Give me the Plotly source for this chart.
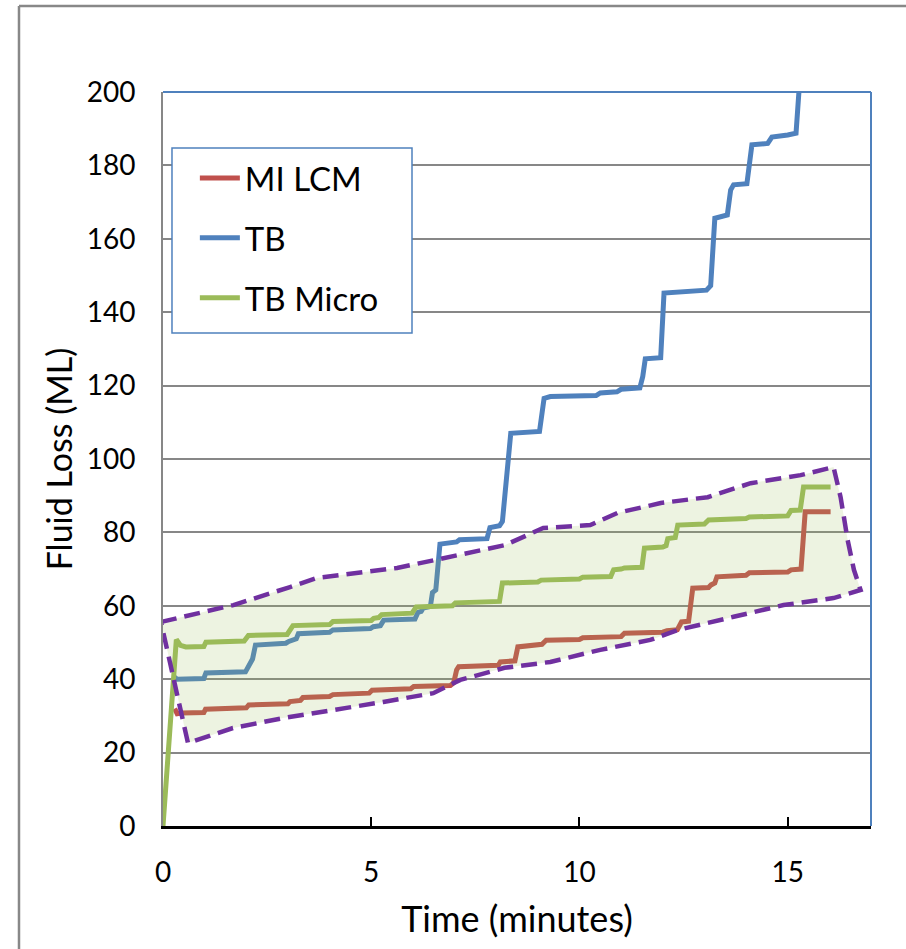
import plotly.graph_objects as go

# ---------------- data ----------------
mi_lcm_x = [0.28, 0.34, 0.45, 0.98, 1.02, 2.0, 2.06, 3.0, 3.05, 3.3, 3.36, 4.0, 4.08, 4.95, 5.02,
            5.95, 6.02, 6.9, 6.98, 7.05, 7.1, 8.05, 8.1, 8.45, 8.52, 9.1, 9.2, 10.0, 10.08, 11.0,
            11.08, 12.0, 12.1, 12.35, 12.45, 12.62, 12.72, 13.1, 13.16, 13.25, 13.3, 14.0, 14.08,
            15.0, 15.08, 15.32, 15.42, 16.03]
mi_lcm_y = [32.0, 30.6, 30.8, 30.9, 31.8, 32.2, 33.0, 33.3, 33.9, 34.2, 35.0, 35.3, 35.8, 36.2, 37.0,
            37.4, 38.0, 38.3, 39.0, 42.5, 43.4, 43.8, 44.7, 45.0, 48.8, 49.5, 50.6, 50.8, 51.3, 51.6,
            52.5, 52.8, 53.2, 53.5, 55.6, 55.8, 64.8, 65.0, 65.7, 66.2, 67.9, 68.3, 69.0,
            69.2, 69.8, 70.0, 85.6, 85.6]

tb_x = [0.28, 0.34, 0.98, 1.03, 1.98, 2.05, 2.15, 2.22, 2.95, 3.02, 3.2, 3.25, 4.0, 4.08, 4.98,
        5.05, 5.22, 5.3, 6.05, 6.12, 6.2, 6.25, 6.42, 6.47, 6.55, 6.65, 7.05, 7.12, 7.78, 7.85,
        8.08, 8.15, 8.22, 8.28, 8.35, 9.04, 9.15, 9.3, 10.4, 10.5, 10.9, 11.0, 11.45, 11.52, 11.58,
        11.95, 12.03, 13.05, 13.15, 13.25, 13.55, 13.63, 13.7, 14.02, 14.14, 14.52, 14.62, 15.0,
        15.2, 15.3]
tb_y = [40.5, 40.0, 40.2, 41.7, 42.0, 43.5, 45.5, 49.3, 49.8, 50.3, 51.0, 52.4, 52.8, 53.4, 53.8,
        54.3, 54.6, 56.1, 56.4, 58.2, 58.5, 59.4, 59.8, 63.6, 64.3, 76.8, 77.4, 78.0, 78.3, 81.3,
        81.8, 83.0, 90.7, 100.0, 107.0, 107.5, 116.5, 117.0, 117.3, 118.0, 118.3, 119.0, 119.4, 122.5, 127.3,
        127.6, 145.2, 146.0, 147.2, 165.6, 166.5, 173.3, 174.7, 175.0, 185.6, 186.0, 187.7, 188.3,
        188.8, 205.0]

tb_micro_x = [0, 0.32, 0.42, 0.55, 0.98, 1.03, 1.95, 2.05, 2.98, 3.05, 3.12, 4.0, 4.08, 5.0, 5.06,
              5.18, 5.25, 5.98, 6.08, 6.95, 7.02, 8.08, 8.15, 9.0, 9.08, 10.0, 10.08, 10.75, 10.82,
              11.0, 11.08, 11.5, 11.56, 12.0, 12.08, 12.12, 12.3, 12.36, 13.0, 13.1, 14.0, 14.08,
              15.0, 15.08, 15.3, 15.38, 16.03]
tb_micro_y = [0, 50.8, 49.2, 48.8, 48.9, 50.1, 50.4, 51.9, 52.2, 53.3, 54.6, 54.9, 55.7, 56.0, 56.6,
              56.8, 57.6, 58.0, 59.7, 60.0, 60.8, 61.2, 66.2, 66.5, 67.0, 67.3, 67.8, 68.0, 69.8,
              70.0, 70.3, 70.5, 75.7, 76.0, 76.4, 78.3, 78.6, 82.0, 82.3, 83.4, 83.8, 84.2,
              84.5, 86.0, 86.1, 92.4, 92.4]

# hand-drawn envelope (dashed outline with light fill)
envelope_x = [-0.05, 1.69, 3.05, 3.7, 5.62, 7.07, 8.2, 9.13, 10.26, 10.91, 11.95, 13.08, 14.11,
              15.31, 16.1, 16.27, 16.44, 16.59, 16.75, 16.1, 14.9, 13.7, 12.36, 11.7, 10.5, 9.3,
              8.2, 7.14, 6.49, 5.29, 4.09, 2.88, 1.68, 0.6, -0.05]
envelope_y = [55.6, 60.2, 65.1, 67.6, 70.3, 73.8, 76.5, 81.2, 82.0, 85.3, 88.0, 89.6, 93.4,
              95.6, 97.8, 89.6, 77.9, 69.8, 64.3, 62.1, 60.2, 57.0, 53.4, 50.7, 48.0, 44.7,
              43.1, 39.8, 36.2, 33.8, 31.6, 29.4, 26.7, 22.6, 55.6]

series_names = ["MI LCM", "TB", "TB Micro"]
x_ticks = [0, 5, 10, 15]
y_ticks = list(range(0, 201, 20))

for a, b in [(mi_lcm_x, mi_lcm_y), (tb_x, tb_y), (tb_micro_x, tb_micro_y), (envelope_x, envelope_y)]:
    assert len(a) == len(b), (len(a), len(b))

# ---------------- styling ----------------
RED = "#C0504D"
BLUE = "#4F81BD"
GREEN = "#9BBB59"
PURPLE = "#7030A0"
GRID = "#878787"
FONT = "Lato, 'Open Sans', sans-serif"

fig = go.Figure()
for name, xs, ys, col in [(series_names[0], mi_lcm_x, mi_lcm_y, RED),
                          (series_names[1], tb_x, tb_y, BLUE),
                          (series_names[2], tb_micro_x, tb_micro_y, GREEN)]:
    fig.add_trace(go.Scatter(x=xs, y=ys, mode="lines", name=name, legendgroup=name,
                             line=dict(color=col, width=5)))

fig.add_trace(go.Scatter(x=envelope_x, y=envelope_y, mode="lines", fill="toself",
                         fillcolor="rgba(155,187,89,0.18)", showlegend=False, hoverinfo="skip",
                         line=dict(color=PURPLE, width=4.5, dash="16px,8px")))

fig.update_layout(
    width=906, height=949,
    margin=dict(l=163, r=35, t=92, b=123),
    paper_bgcolor="white", plot_bgcolor="white",
    font=dict(family=FONT, color="black"),
    showlegend=True,
    legend=dict(x=0.045, y=0.921, xanchor="left", yanchor="top",
                bgcolor="rgba(0,0,0,0)", borderwidth=0,
                font=dict(family=FONT, size=33, color="black"),
                tracegroupgap=14, itemwidth=40),
    xaxis=dict(range=[0, 17], tickvals=x_ticks, ticks="inside", ticklen=9, tickwidth=2,
               tickcolor="black", showline=True, linecolor="black", linewidth=3,
               showgrid=False, zeroline=False, tickfont=dict(size=28),
               ticklabelstandoff=19,
               title=dict(text="Time (minutes)", font=dict(size=36), standoff=21)),
    yaxis=dict(range=[0, 200], tickvals=y_ticks, ticks="", showline=True, linecolor=GRID,
               linewidth=2, showgrid=True, gridcolor=GRID, gridwidth=2, zeroline=False,
               tickfont=dict(size=28), ticklabelstandoff=20,
               title=dict(text="Fluid Loss (ML)", font=dict(size=34), standoff=4)),
    shapes=[
        # outer chart frame
        dict(type="line", xref="paper", yref="paper", x0=-0.2034, x1=-0.2034, y0=1.1172, y1=-0.3,
             line=dict(color="#888888", width=2.5), layer="below"),
        dict(type="line", xref="paper", yref="paper", x0=-0.2034, x1=1.2, y0=1.1172, y1=1.1172,
             line=dict(color="#888888", width=2.5), layer="below"),
        # blue plot-area border (top / right)
        dict(type="line", xref="paper", yref="paper", x0=0, x1=1, y0=1, y1=1,
             line=dict(color=BLUE, width=2)),
        dict(type="line", xref="paper", yref="paper", x0=1, x1=1, y0=0, y1=1,
             line=dict(color=BLUE, width=2)),
        # legend box
        dict(type="rect", xref="paper", yref="paper", x0=0.0127, x1=0.3517, y0=0.6717, y1=0.9237,
             fillcolor="white", line=dict(color=BLUE, width=1.5)),
    ],
)

fig.write_html("out.html",
               config={"displayModeBar": False},
               post_script="document.body.style.margin='0';document.body.style.overflow='hidden';")
